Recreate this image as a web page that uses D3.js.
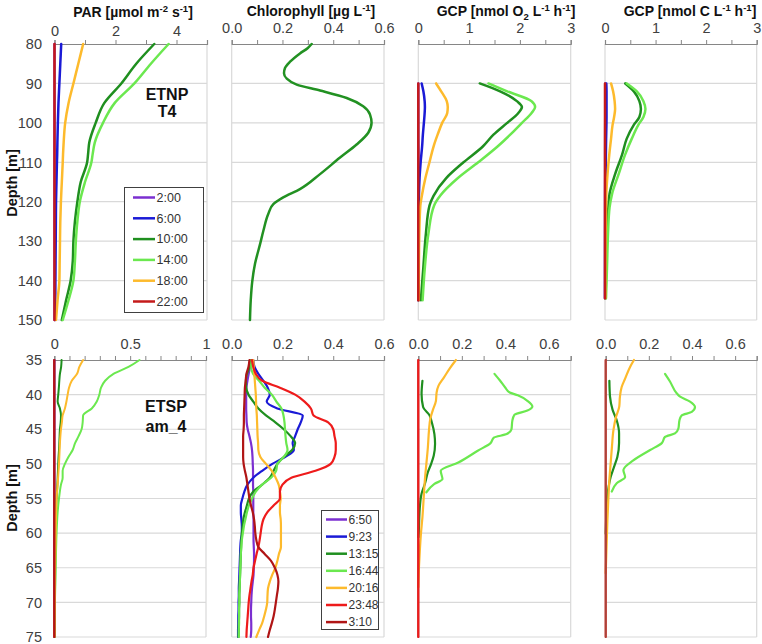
<!DOCTYPE html>
<html><head><meta charset="utf-8">
<script src="https://cdn.jsdelivr.net/npm/d3@7"></script>
<style>body{margin:0;background:#fff} svg{display:block;font-family:"Liberation Sans",Arial,sans-serif}</style>
</head><body>
<svg id="chart" width="762" height="644"></svg>
<script>
// ================= DATA =================
const topTimes = ["2:00","6:00","10:00","14:00","18:00","22:00"];
const topColors = ["#7B2FD0","#1A1AD6","#1F8F1F","#6BE84F","#FDBA2C","#C41A1A"];
const botTimes = ["6:50","9:23","13:15","16:44","20:16","23:48","3:10"];
const botColors = ["#7B2FD0","#1A1AD6","#1F8F1F","#6BE84F","#FDBA2C","#EE1B1B","#B01515"];

// depth ticks
const topDepthTicks = [80,90,100,110,120,130,140,150];
const botDepthTicks = [35,40,45,50,55,60,65,70,75];

// x tick values / labels
const parTopTicks = [0,1,2,3,4,5];           const parTopLabels = [0,2,4];
const chlTicks = [0,0.1,0.2,0.3,0.4,0.5,0.6]; const chlLabels = [0,0.2,0.4,0.6];
const gcpTopTicks = [0,0.5,1,1.5,2,2.5,3];   const gcpTopLabels = [0,1,2,3];
const parBotTicks = [0,0.1,0.2,0.3,0.4,0.5,0.6,0.7,0.8,0.9,1]; const parBotLabels = [0,0.5,1];
const gcpBotTicks = [0,0.1,0.2,0.3,0.4,0.5,0.6,0.7]; const gcpBotLabels = [0,0.2,0.4,0.6];

// ---- Top row (ETNP T4) ----
// PAR
const parTopDepth = [80,85,90,95,100,105,108,110,115,120,125,130,135,140,145,150];
const parTop_0200 = [0,0,0,0,0,0,0,0,0,0,0,0,0,0,0,0];
const parTop_0600 = [0.22,0.19,0.16,0.13,0.11,0.095,0.088,0.08,0.065,0.05,0.045,0.04,0.035,0.03,0.025,0.02];
const parTop_1000 = [3.27,2.68,2.19,1.63,1.35,1.14,1.10,1.07,0.86,0.75,0.67,0.62,0.60,0.53,0.38,0.24];
const parTop_1400 = [3.74,3.16,2.62,1.97,1.59,1.32,1.25,1.21,1.0,0.83,0.75,0.70,0.67,0.62,0.46,0.27];
const parTop_1800 = [0.94,0.78,0.62,0.46,0.35,0.30,0.28,0.27,0.24,0.21,0.19,0.18,0.17,0.16,0.10,0.05];
const parTop_2200 = [0,0,0,0,0,0,0,0,0,0,0,0,0,0,0,0];
// Chlorophyll
const chlTopDepth = [80,81,82.4,84.5,86.1,87.4,88.8,90.3,91.8,93.7,95.8,97.9,100,102.5,105.5,108.8,113,116.8,118.9,120.6,123.1,127.3,130.7,135.7,140.2,145,150];
const chlTop = [0.315,0.30,0.269,0.23,0.21,0.206,0.217,0.256,0.348,0.453,0.518,0.545,0.551,0.538,0.492,0.427,0.348,0.269,0.203,0.164,0.144,0.125,0.112,0.092,0.081,0.075,0.072];
// GCP O2
const o2TopDepth = [90,92,94.5,96,97.5,100,103,106,110,114,118.5,121,128,136.5,145];
const o2Top_0200 = [0,0,0,0,0,0,0,0.002,0.005,0.008,0.01,0.01,0.008,0.005,0];
const o2Top_0600 = [0.066,0.10,0.125,0.13,0.125,0.11,0.09,0.075,0.046,0.025,0.012,0.008,0.005,0.004,0.004];
const o2Top_1000 = [1.21,1.61,1.94,2.04,1.97,1.75,1.48,1.27,0.89,0.55,0.30,0.22,0.15,0.10,0.05];
const o2Top_1400 = [1.38,1.75,2.23,2.30,2.23,2.04,1.81,1.56,1.18,0.78,0.43,0.31,0.20,0.13,0.085];
const o2Top_1800 = [0.35,0.45,0.56,0.58,0.57,0.47,0.38,0.30,0.22,0.14,0.07,0.04,0.02,0.012,0.01];
const o2Top_2200 = [0,0,0,0,0,0,0,0,0,0,0,0,0,0,0];
// GCP C
const cTopDepth = [90,92,94.5,96.5,98.5,100.5,104,108,113,118,121.5,128,136.5,144.5];
const cTop_0200 = [0.005,0.005,0.005,0.005,0.005,0.004,0.003,0.002,0.002,0,0,0,0,0];
const cTop_0600 = [0.026,0.03,0.03,0.03,0.03,0.028,0.022,0.017,0.012,0.008,0.006,0.004,0.003,0.002];
const cTop_1000 = [0.40,0.57,0.68,0.71,0.68,0.57,0.43,0.34,0.20,0.09,0.066,0.04,0.02,0.013];
const cTop_1400 = [0.43,0.63,0.76,0.80,0.76,0.66,0.53,0.40,0.27,0.14,0.09,0.06,0.04,0.02];
const cTop_1800 = [0.12,0.16,0.19,0.20,0.18,0.15,0.12,0.085,0.05,0.026,0.02,0.013,0.007,0.005];
const cTop_2200 = [0,0,0,0,0,0,0,0,0,0,0,0,0,0];

// ---- Bottom row (ETSP am_4) ----
// PAR
const parBotDepth = [35,36,37,38,39,40,41,42,43,44,45,46,47,48,49,50,51,52,53,55,57,60,65,70,75];
const parBot_0650 = [0,0,0,0,0,0,0,0,0,0,0,0,0,0,0,0,0,0,0,0,0,0,0,0,0];
const parBot_0923 = [0,0,0,0,0,0,0,0,0,0,0,0,0,0,0,0,0,0,0,0,0,0,0,0,0];
const parBot_1315 = [0.048,0.045,0.037,0.033,0.03,0.026,0.022,0.037,0.044,0.042,0.037,0.035,0.033,0.031,0.028,0.026,0.024,0.022,0.02,0.015,0.012,0.009,0.006,0.004,0.002];
const parBot_1644 = [0.562,0.489,0.39,0.335,0.308,0.297,0.28,0.247,0.19,0.187,0.18,0.16,0.137,0.121,0.093,0.07,0.055,0.055,0.044,0.031,0.022,0.015,0.009,0.004,0.002];
const parBot_2016 = [0.19,0.165,0.15,0.115,0.097,0.088,0.08,0.07,0.055,0.05,0.044,0.04,0.037,0.035,0.033,0.031,0.028,0.025,0.022,0.015,0.012,0.009,0.005,0.003,0.002];
const parBot_2348 = [0,0,0,0,0,0,0,0,0,0,0,0,0,0,0,0,0,0,0,0,0,0,0,0,0];
const parBot_0310 = [0,0,0,0,0,0,0,0,0,0,0,0,0,0,0,0,0,0,0,0,0,0,0,0,0];
// Chlorophyll
const chlBotDepth = [35,36,37,38,39,40,41,42,43,44,45,46,47,48,49,50,51,52,53,54,55,56,57,58,59,60,61,62,63,64,65,66,67,68,69,70,71,72,73,74,75];
const chlBot_0650 = [0.077,0.072,0.067,0.062,0.058,0.057,0.057,0.057,0.058,0.059,0.063,0.07,0.076,0.08,0.082,0.083,0.084,0.084,0.084,0.085,0.085,0.085,0.085,0.086,0.086,0.086,0.086,0.087,0.088,0.088,0.087,0.086,0.083,0.08,0.078,0.077,0.076,0.076,0.077,0.077,0.075];
const chlBot_0923 = [0.085,0.09,0.105,0.125,0.142,0.15,0.138,0.18,0.28,0.272,0.26,0.25,0.24,0.245,0.21,0.16,0.12,0.085,0.062,0.05,0.042,0.036,0.036,0.038,0.04,0.04,0.036,0.034,0.033,0.032,0.031,0.03,0.029,0.028,0.028,0.027,0.027,0.026,0.026,0.025,0.025];
const chlBot_1315 = [0.072,0.07,0.06,0.056,0.057,0.066,0.085,0.105,0.135,0.172,0.205,0.232,0.25,0.238,0.205,0.18,0.165,0.15,0.12,0.085,0.068,0.06,0.052,0.046,0.043,0.04,0.038,0.037,0.036,0.035,0.034,0.033,0.032,0.031,0.03,0.03,0.029,0.029,0.028,0.028,0.027];
const chlBot_1644 = [0.077,0.077,0.084,0.108,0.13,0.158,0.176,0.196,0.204,0.208,0.21,0.212,0.215,0.22,0.205,0.18,0.175,0.155,0.12,0.095,0.08,0.068,0.06,0.054,0.048,0.044,0.04,0.038,0.036,0.035,0.034,0.033,0.032,0.031,0.03,0.03,0.029,0.029,0.029,0.028,0.028];
const chlBot_2016 = [0.085,0.087,0.089,0.091,0.093,0.095,0.096,0.097,0.099,0.1,0.101,0.102,0.104,0.105,0.113,0.135,0.158,0.173,0.185,0.19,0.193,0.19,0.19,0.193,0.194,0.194,0.194,0.194,0.186,0.18,0.172,0.16,0.15,0.143,0.141,0.14,0.135,0.128,0.12,0.108,0.097];
const chlBot_2348 = [0.08,0.085,0.095,0.12,0.19,0.25,0.287,0.312,0.322,0.38,0.40,0.405,0.41,0.41,0.405,0.39,0.33,0.235,0.20,0.19,0.19,0.165,0.14,0.125,0.118,0.114,0.11,0.105,0.098,0.092,0.086,0.083,0.078,0.074,0.07,0.067,0.065,0.063,0.061,0.059,0.058];
const chlBot_0310 = [0.07,0.066,0.058,0.055,0.052,0.051,0.05,0.049,0.048,0.048,0.047,0.045,0.045,0.045,0.045,0.047,0.052,0.058,0.062,0.066,0.07,0.076,0.083,0.088,0.091,0.093,0.097,0.105,0.13,0.155,0.17,0.18,0.184,0.182,0.178,0.174,0.17,0.165,0.158,0.15,0.143];
// GCP O2
const o2Bot_1315_d = [38,39.9,41.8,43,44,45.7,47.1,48.8,50,51.2,52.9,54.3,56.3,59.1,60.6];
const o2Bot_1315 = [0.019,0.015,0.022,0.052,0.062,0.074,0.077,0.071,0.059,0.044,0.03,0.015,0.007,0.003,0.001];
const o2Bot_1644_d = [37,38,39,39.7,40.1,40.9,41.7,42.3,42.9,43.75,45,45.7,46.2,47,48.1,49.8,51,52.2,52.9,54.1];
const o2Bot_1644 = [0.35,0.376,0.40,0.42,0.457,0.501,0.524,0.501,0.442,0.432,0.428,0.406,0.347,0.332,0.273,0.184,0.103,0.111,0.074,0.037];
const o2Bot_2016_d = [35,36.1,37.5,38.7,39.7,40.9,42.3,43.5,45.2,47.6,50,52.4,54.8,57.7,60.1,62.5,64.9,67.8];
const o2Bot_2016 = [0.173,0.147,0.118,0.093,0.084,0.081,0.066,0.055,0.049,0.044,0.037,0.03,0.025,0.019,0.012,0.007,0.003,0];
const o2Bot_zero_d = [35,75];
const o2Bot_2348 = [0,0];
const o2Bot_0310 = [0,0];
// GCP C
const cBot_1315_d = [38,40.3,42.2,43.7,45.6,47,49,50.4,51.9,53.8,55.2,58.1,60.1];
const cBot_1315 = [0.017,0.02,0.032,0.051,0.062,0.062,0.054,0.039,0.023,0.011,0.005,0.002,0];
const cBot_1644_d = [37,38.1,39.8,40.3,41,41.8,42.5,43,43.7,44.9,45.6,46.1,47,48,49.5,50.9,51.9,52.8,54];
const cBot_1644 = [0.275,0.298,0.329,0.345,0.391,0.414,0.399,0.352,0.342,0.337,0.321,0.275,0.26,0.206,0.128,0.082,0.09,0.051,0.028];
const cBot_2016_d = [35,36,37.7,38.9,40.3,41.7,43.2,45.1,47.5,49.9,52.3,55.2,58.1,61,63.9,65.8];
const cBot_2016 = [0.131,0.113,0.09,0.074,0.066,0.063,0.048,0.036,0.029,0.023,0.017,0.012,0.008,0.005,0.002,0];
const cBot_zero_d = [35,75];
const cBot_2348 = [0,0];
const cBot_0310 = [0,0];

// ================= DRAWING =================
const svg = d3.select("#chart");
const FONT = "'Liberation Sans',Arial,sans-serif";

const rows = [
  {y0:44, y1:320, domain:[80,150], ticks:topDepthTicks},
  {y0:360, y1:637, domain:[35,75], ticks:botDepthTicks}
];

function ser(depth, vals, color, w) {
  return {pts: depth.map((d,i)=>[vals[i], d]), color, w: w||2.5};
}

const panels = [
  {row:0, xr:[54.5,207], dom:[0,5], tv:parTopTicks, lv:parTopLabels, fmt:d3.format("d"), left:true, lb:36,
   series:[parTop_0200,parTop_0600,parTop_1000,parTop_1400,parTop_1800,parTop_2200].map((v,i)=>ser(parTopDepth,v,topColors[i]))},
  {row:0, xr:[231.7,384], dom:[0,0.6], tv:chlTicks, lv:chlLabels, fmt:d3.format(".1f"), lb:33,
   series:[ser(chlTopDepth, chlTop, "#229122")]},
  {row:0, xr:[418.3,570.7], dom:[0,3], tv:gcpTopTicks, lv:gcpTopLabels, fmt:d3.format("d"), lb:33,
   series:[o2Top_0200,o2Top_0600,o2Top_1000,o2Top_1400,o2Top_1800,o2Top_2200].map((v,i)=>ser(o2TopDepth,v,topColors[i]))},
  {row:0, xr:[605,756.7], dom:[0,3], tv:gcpTopTicks, lv:gcpTopLabels, fmt:d3.format("d"), lb:33,
   series:[cTop_0200,cTop_0600,cTop_1000,cTop_1400,cTop_1800,cTop_2200].map((v,i)=>ser(cTopDepth,v,topColors[i]))},
  {row:1, xr:[54.3,206], dom:[0,1], tv:parBotTicks, lv:parBotLabels, fmt:d => d===0.5?"0.5":d3.format("d")(d), left:true, lb:348.5,
   series:[parBot_0650,parBot_0923,parBot_1315,parBot_1644,parBot_2016,parBot_2348,parBot_0310].map((v,i)=>ser(parBotDepth,v,botColors[i],2))},
  {row:1, xr:[231.7,384], dom:[0,0.6], tv:chlTicks, lv:chlLabels, fmt:d3.format(".1f"), lb:348.5,
   series:[chlBot_0650,chlBot_0923,chlBot_1315,chlBot_1644,chlBot_2016,chlBot_2348,chlBot_0310].map((v,i)=>ser(chlBotDepth,v,botColors[i],2.2))},
  {row:1, xr:[418.3,570.7], dom:[0,0.7], tv:gcpBotTicks, lv:gcpBotLabels, fmt:d3.format(".1f"), lb:348.5,
   series:[ser(o2Bot_1315_d,o2Bot_1315,botColors[2],2.2), ser(o2Bot_1644_d,o2Bot_1644,botColors[3],2.2),
           ser(o2Bot_2016_d,o2Bot_2016,botColors[4],2.2), ser(o2Bot_zero_d,o2Bot_0310,botColors[6],2),
           ser(o2Bot_zero_d,o2Bot_2348,botColors[5],2)]},
  {row:1, xr:[605.7,756.7], dom:[0,0.7], tv:gcpBotTicks, lv:gcpBotLabels, fmt:d3.format(".1f"), lb:348.5,
   series:[ser(cBot_1315_d,cBot_1315,botColors[2],2.2), ser(cBot_1644_d,cBot_1644,botColors[3],2.2),
           ser(cBot_2016_d,cBot_2016,botColors[4],2.2), ser(cBot_zero_d,cBot_2348,botColors[5],2),
           ser(cBot_zero_d,cBot_0310,"#A8443A",2)]}
];

panels.forEach(p => {
  const r = rows[p.row];
  const x = d3.scaleLinear().domain(p.dom).range(p.xr);
  const y = d3.scaleLinear().domain(r.domain).range([r.y0, r.y1]);
  const g = svg.append("g");
  // gridlines
  g.selectAll(".grid").data(r.ticks.slice(1)).join("line")
    .attr("x1", p.xr[0]).attr("x2", p.xr[1])
    .attr("y1", d=>y(d)).attr("y2", d=>y(d))
    .attr("stroke", "#d9d9d9").attr("stroke-width", 1.2);
  // side borders
  [p.xr[0], p.xr[1]].forEach(xx => g.append("line")
    .attr("x1",xx).attr("x2",xx).attr("y1",r.y0).attr("y2",r.y1)
    .attr("stroke","#d9d9d9").attr("stroke-width",1.2));
  // top axis
  const ax = g.append("g").attr("transform", `translate(0,${r.y0})`)
    .call(d3.axisTop(x).tickValues(p.tv).tickSizeOuter(0).tickSize(4)
      .tickFormat(d => p.lv.some(l => Math.abs(l-d)<1e-9) ? p.fmt(d) : ""));
  ax.select(".domain").attr("stroke","#868686").attr("stroke-width",1.2);
  ax.selectAll(".tick line").attr("stroke","#868686").attr("y1",-4).attr("y2",0);
  ax.selectAll(".tick text").attr("y", p.lb - r.y0).attr("dy", null)
    .attr("font-size","14.5px").attr("font-family",FONT).attr("fill","#404040");
  // left labels
  if (p.left) {
    g.selectAll(".ylab").data(r.ticks).join("text")
      .attr("x", 42).attr("y", d=>y(d)).attr("dy","0.36em")
      .attr("text-anchor","end").attr("font-size","14.5px").attr("font-family",FONT)
      .attr("fill","#404040").text(d=>d);
  }
  // lines
  const line = d3.line().x(d=>x(d[0])).y(d=>y(d[1])).curve(d3.curveMonotoneY);
  p.series.forEach(s => {
    g.append("path").attr("d", line(s.pts)).attr("fill","none")
      .attr("stroke", s.color).attr("stroke-width", s.w)
      .attr("stroke-linejoin","round").attr("stroke-linecap","round");
  });
});

// ---- titles ----
function rich(x, y, parts, size, weight, anchor) {
  const t = svg.append("text").attr("x",x).attr("y",y).attr("font-family",FONT)
    .attr("font-size",size+"px").attr("font-weight",weight||"bold")
    .attr("text-anchor",anchor||"middle").attr("fill","#111");
  let shift = 0;
  parts.forEach(([s, k]) => {
    const target = k==="sup" ? -5 : k==="sub" ? 4 : 0;
    const sp = t.append("tspan").attr("dy", target - shift).text(s);
    if (k) sp.attr("font-size", (size*0.68)+"px");
    shift = target;
  });
  return t;
}
rich(133, 17, [["PAR [µmol m"],["-2","sup"],[" s"],["-1","sup"],["]"]], 14);
rich(311, 16, [["Chlorophyll [µg L"],["-1","sup"],["]"]], 14);
rich(506, 16, [["GCP [nmol O"],["2","sub"],[" L"],["-1","sup"],[" h"],["-1","sup"],["]"]], 14);
rich(690, 16, [["GCP [nmol C L"],["-1","sup"],[" h"],["-1","sup"],["]"]], 14);

// Depth labels
[[183],[498]].forEach(([cy]) => {
  svg.append("text").attr("transform",`translate(17,${cy}) rotate(-90)`)
    .attr("text-anchor","middle").attr("font-family",FONT).attr("font-weight","bold")
    .attr("font-size","14.5px").attr("fill","#111").text("Depth [m]");
});

// Station annotations
[["ETNP",167,100],["T4",167,117],["ETSP",166,412],["am_4",166,432]].forEach(([s,x,y]) => {
  svg.append("text").attr("x",x).attr("y",y).attr("text-anchor","middle")
    .attr("font-family",FONT).attr("font-weight","bold").attr("font-size","16px")
    .attr("fill","#111").text(s);
});

// Legends
function legend(x0, y0, w, h, firstY, step, lx0, lx1, names, colors, fs) {
  const g = svg.append("g");
  g.append("rect").attr("x",x0).attr("y",y0).attr("width",w).attr("height",h)
    .attr("fill","#fff").attr("stroke","#404040").attr("stroke-width",1);
  names.forEach((n,i) => {
    const yy = firstY + i*step;
    g.append("line").attr("x1",lx0).attr("x2",lx1).attr("y1",yy).attr("y2",yy)
      .attr("stroke",colors[i]).attr("stroke-width",2.5);
    g.append("text").attr("x",lx1+1.5).attr("y",yy).attr("dy","0.35em")
      .attr("font-family",FONT).attr("font-size",fs+"px").attr("fill","#333").text(n);
  });
}
legend(124.5, 187.5, 79, 125, 197.5, 20.8, 133, 155, topTimes, topColors, 12.5);
legend(321.5, 510.5, 57, 119, 519.5, 17.1, 326, 347, botTimes, botColors, 12);
</script>
</body></html>
